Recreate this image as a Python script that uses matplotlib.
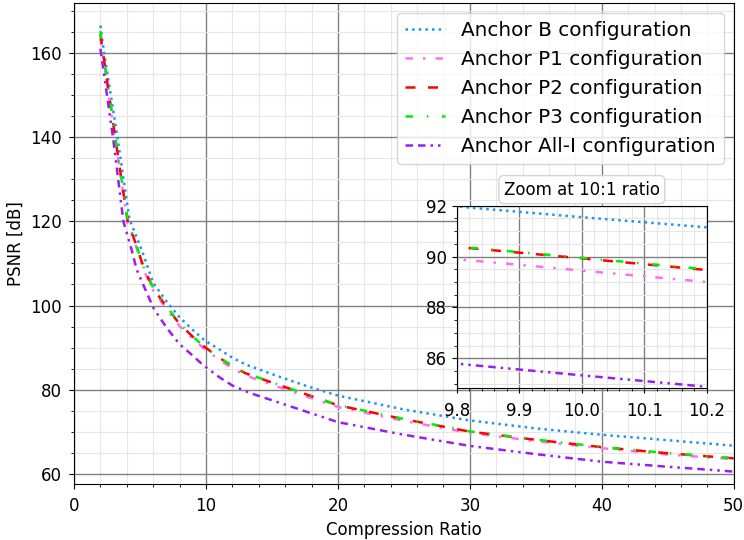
import matplotlib
matplotlib.use('Agg')
import matplotlib.pyplot as plt
from matplotlib.ticker import MultipleLocator, AutoMinorLocator

# Values (compression ratio -> PSNR in dB)
cr_b = [2.0, 2.28, 3.29, 4.2, 5.13, 6.0, 7.0, 8.0, 9.0, 9.8, 10.0, 10.2, 11.0, 12.0, 13.0,
        15.0, 17.5, 20.0, 25.0, 30.0, 35.0, 40.0, 45.0, 50.0]
psnr_b = [166.5, 160.0, 140.0, 120.5, 113.2, 105.4, 101.0, 97.2, 94.2, 91.97, 91.55, 91.15, 89.6, 87.6, 86.0,
          83.7, 81.0, 78.6, 75.3, 72.7, 70.8, 69.3, 68.0, 66.7]

cr_p = [2.0, 2.2, 3.12, 4.07, 4.6, 5.34, 6.0, 6.8, 8.0, 9.0, 9.8, 10.0, 10.2, 11.0, 12.0, 13.0,
        15.0, 17.5, 20.0, 25.0, 30.0, 35.0, 40.0, 45.0, 50.0]
psnr_p1 = [163.5, 159.5, 139.5, 119.5, 115.0, 108.0, 103.6, 100.1, 95.1, 92.1, 89.9, 89.45, 89.0, 87.1, 85.1, 83.4,
           81.2, 78.5, 75.9, 72.6, 69.7, 67.8, 66.1, 64.6, 63.5]
psnr_p2 = [164.5, 160.0, 140.0, 120.0, 115.4, 108.5, 104.1, 100.6, 95.6, 92.6, 90.38, 89.93, 89.47, 87.6, 85.6, 83.9,
           81.7, 79.0, 76.3, 73.0, 70.05, 68.1, 66.35, 64.9, 63.7]
psnr_p3 = [165.2, 160.3, 140.2, 120.1, 115.5, 108.6, 104.2, 100.7, 95.7, 92.65, 90.4, 89.95, 89.5, 87.65, 85.65, 83.95,
           81.75, 79.05, 76.35, 73.05, 70.1, 68.15, 66.4, 64.95, 63.75]

cr_i = [2.0, 2.98, 3.74, 4.37, 4.75, 6.02, 7.0, 8.0, 9.0, 9.8, 10.0, 10.2, 11.0, 12.0, 13.35,
        15.0, 17.5, 20.0, 25.0, 30.0, 35.0, 40.0, 45.0, 50.0]
psnr_i = [161.0, 139.3, 120.0, 113.2, 108.5, 99.4, 94.8, 90.8, 88.1, 85.79, 85.33, 84.88, 83.0, 81.0, 79.2,
          77.5, 74.9, 72.3, 69.3, 66.65, 64.7, 62.9, 61.7, 60.55]

series = [
    ('Anchor B configuration', cr_b, psnr_b, '#1E96F0', ':'),
    ('Anchor P1 configuration', cr_p, psnr_p1, '#FF70F0', (0, (3, 4, 1, 4))),
    ('Anchor P2 configuration', cr_p, psnr_p2, '#FF0000', (0, (4, 5))),
    ('Anchor P3 configuration', cr_p, psnr_p3, '#00EE00', (0, (3, 5.5, 0.6, 5.5))),
    ('Anchor All-I configuration', cr_i, psnr_i, '#9B1EF0', (0, (3, 2, 3, 2, 1, 2, 1, 2))),
]

plt.rcParams['font.size'] = 12

fig = plt.figure(figsize=(7.44, 5.4), dpi=100)
ax = fig.add_axes([0.0995, 0.1037, 0.8867, 0.8902])

for label, x, y, color, ls in series:
    ax.plot(x, y, color=color, linestyle=ls, linewidth=1.8, label=label)

ax.set_xlim(0, 50)
ax.set_ylim(57.6, 171.8)
ax.xaxis.set_minor_locator(MultipleLocator(2))
ax.yaxis.set_minor_locator(MultipleLocator(5))
ax.tick_params(axis='x', which='major', pad=6)
ax.tick_params(axis='y', which='major', pad=5)
ax.grid(True, which='major', color='#808080', linewidth=1.0)
ax.grid(True, which='minor', color='#e6e6e6', linewidth=0.8)
ax.set_axisbelow(True)
ax.set_xlabel('Compression Ratio', fontsize=12)
ax.set_ylabel('PSNR [dB]', fontsize=12)
ax.legend(loc='upper right', fontsize=14.4, labelspacing=0.5)

# Zoomed inset around 10:1
ins = fig.add_axes([0.6138, 0.2809, 0.3364, 0.3381])
for label, x, y, color, ls in series:
    ins.plot(x, y, color=color, linestyle=ls, linewidth=1.8)
ins.set_xlim(9.8, 10.2)
ins.set_ylim(84.82, 92.0)
ins.xaxis.set_major_locator(MultipleLocator(0.1))
ins.xaxis.set_minor_locator(AutoMinorLocator(5))
ins.yaxis.set_major_locator(MultipleLocator(2))
ins.yaxis.set_minor_locator(AutoMinorLocator(4))
ins.tick_params(axis='x', which='major', pad=6)
ins.grid(True, which='major', color='#808080', linewidth=1.0)
ins.grid(True, which='minor', color='#e6e6e6', linewidth=0.8)
ins.set_axisbelow(True)
ins.set_title('Zoom at 10:1 ratio', fontsize=12, pad=8,
              bbox=dict(boxstyle='round,pad=0.3', fc='white', ec='#d0d0d0', alpha=0.9))

fig.savefig('out.png', dpi=100)
